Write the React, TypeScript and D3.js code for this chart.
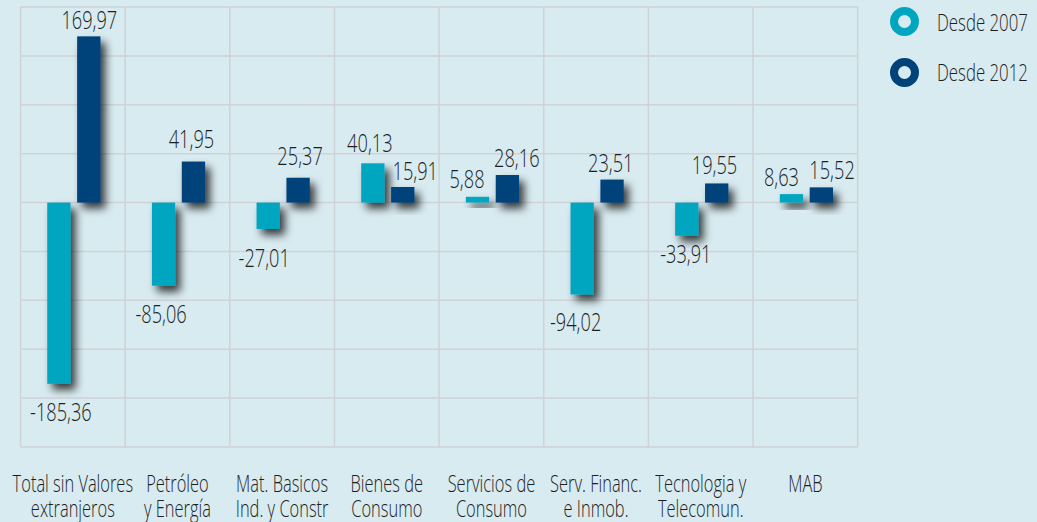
import React from "react";
import * as d3 from "d3";

const categoryLines: string[][] = [
  ["Total sin Valores", "extranjeros"],
  ["Petróleo", "y Energía"],
  ["Mat. Basicos", "Ind. y Constr"],
  ["Bienes de", "Consumo"],
  ["Servicios de", "Consumo"],
  ["Serv. Financ.", "e Inmob."],
  ["Tecnologia y", "Telecomun."],
  ["MAB"],
];
const seriesNames = ["Desde 2007", "Desde 2012"];
const desde2007 = [-185.36, -85.06, -27.01, 40.13, 5.88, -94.02, -33.91, 8.63];
const desde2012 = [169.97, 41.95, 25.37, 15.91, 28.16, 23.51, 19.55, 15.52];
const yTicks = [-250, -200, -150, -100, -50, 0, 50, 100, 150, 200];

// label nudges (layout only)
const nudge2007: [number, number][] = [
  [2, 0], [-2.5, 0], [-4, 1.5], [-3, -3.7], [-10.5, -1], [-6.5, 0], [-1, -10], [-10, 0],
];
const nudge2012: [number, number][] = [
  [0.5, 0.6], [-2, -6], [2, -5], [12.5, 0.6], [9.4, 0], [-1.3, 0], [-2.2, -1], [10.7, 0],
];

const W = 1037;
const H = 522;
const BG = "#d8ebf1";
const GRID = "#cfd2d6";
const TEAL = "#00a6c0";
const NAVY = "#00427a";
const TXT = "#1e1e1e";
const FONT = "'Open Sans', sans-serif";
const SX = 0.7;

const fmt = (v: number) => d3.format(".2f")(v).replace(".", ",").replace("−", "-");

export default function App() {
  const x0 = d3
    .scaleBand<number>()
    .domain(d3.range(categoryLines.length))
    .range([20.5, 857.7])
    .padding(0);
  const x1 = d3
    .scaleBand<string>()
    .domain(seriesNames)
    .range([0, x0.bandwidth()])
    .paddingInner(0.22)
    .paddingOuter(0.86)
    .align(0.52);
  const y = d3.scaleLinear().domain([-250, 200]).range([447, 7]);

  const series = [desde2007, desde2012];
  const colors = [TEAL, NAVY];
  const nudges = [nudge2007, nudge2012];

  const T = (
    x: number,
    yy: number,
    s: string,
    size: number,
    anchor: "middle" | "start" = "middle",
    key?: string
  ) => (
    <text
      key={key}
      transform={`translate(${x},${yy}) scale(${SX},1)`}
      textAnchor={anchor}
      fontFamily={FONT}
      fontSize={size}
      fontWeight={300}
      fill={TXT}
    >
      {s}
    </text>
  );

  return (
    <svg
      width={W}
      height={H}
      style={{ position: "absolute", left: 0, top: 0 }}
    >
      <defs>
        <filter id="shadow" x="-80%" y="-80%" width="260%" height="260%">
          <feDropShadow dx="5" dy="6" stdDeviation="4.5" floodColor="#000" floodOpacity="0.75" />
        </filter>
      </defs>
      <rect x={0} y={0} width={W} height={H} fill={BG} />
      {/* grid */}
      {yTicks.map((t) => (
        <line key={"h" + t} x1={20.5} x2={857.7} y1={y(t)} y2={y(t)} stroke={GRID} strokeWidth={1.5} />
      ))}
      {d3.range(categoryLines.length + 1).map((i) => {
        const xx = 20.5 + i * x0.step();
        return <line key={"v" + i} x1={xx} x2={xx} y1={y(200)} y2={y(-250)} stroke={GRID} strokeWidth={1.5} />;
      })}
      {/* bars */}
      {series.map((vals, si) =>
        vals.map((v, i) => {
          const bx = (x0(i) as number) + (x1(seriesNames[si]) as number);
          return (
            <rect
              key={"b" + si + "-" + i}
              x={bx}
              width={x1.bandwidth()}
              y={Math.min(y(v), y(0))}
              height={Math.abs(y(v) - y(0))}
              fill={colors[si]}
              filter="url(#shadow)"
            />
          );
        })
      )}
      {/* value labels */}
      {series.map((vals, si) =>
        vals.map((v, i) => {
          const cx = (x0(i) as number) + (x1(seriesNames[si]) as number) + x1.bandwidth() / 2;
          const base = v >= 0 ? y(v) - 8 : y(v) + 37;
          const [dx, dy] = nudges[si][i];
          return T(cx + dx, base + dy, fmt(v), 26, "middle", "l" + si + "-" + i);
        })
      )}
      {/* category labels */}
      {categoryLines.map((lines, i) => {
        const cx = (x0(i) as number) + x0.bandwidth() / 2;
        return lines.map((ln, j) => T(cx, 491.5 + j * 25, ln, 23.5, "middle", "c" + i + "-" + j));
      })}
      {/* legend */}
      {seriesNames.map((n, si) => (
        <g key={"lg" + si}>
          <circle cx={904.5} cy={21.5 + si * 51} r={10.5} fill="none" stroke={colors[si]} strokeWidth={8} />
          {T(937, 30.5 + si * 50, n, 24, "start", "lt" + si)}
        </g>
      ))}
    </svg>
  );
}
